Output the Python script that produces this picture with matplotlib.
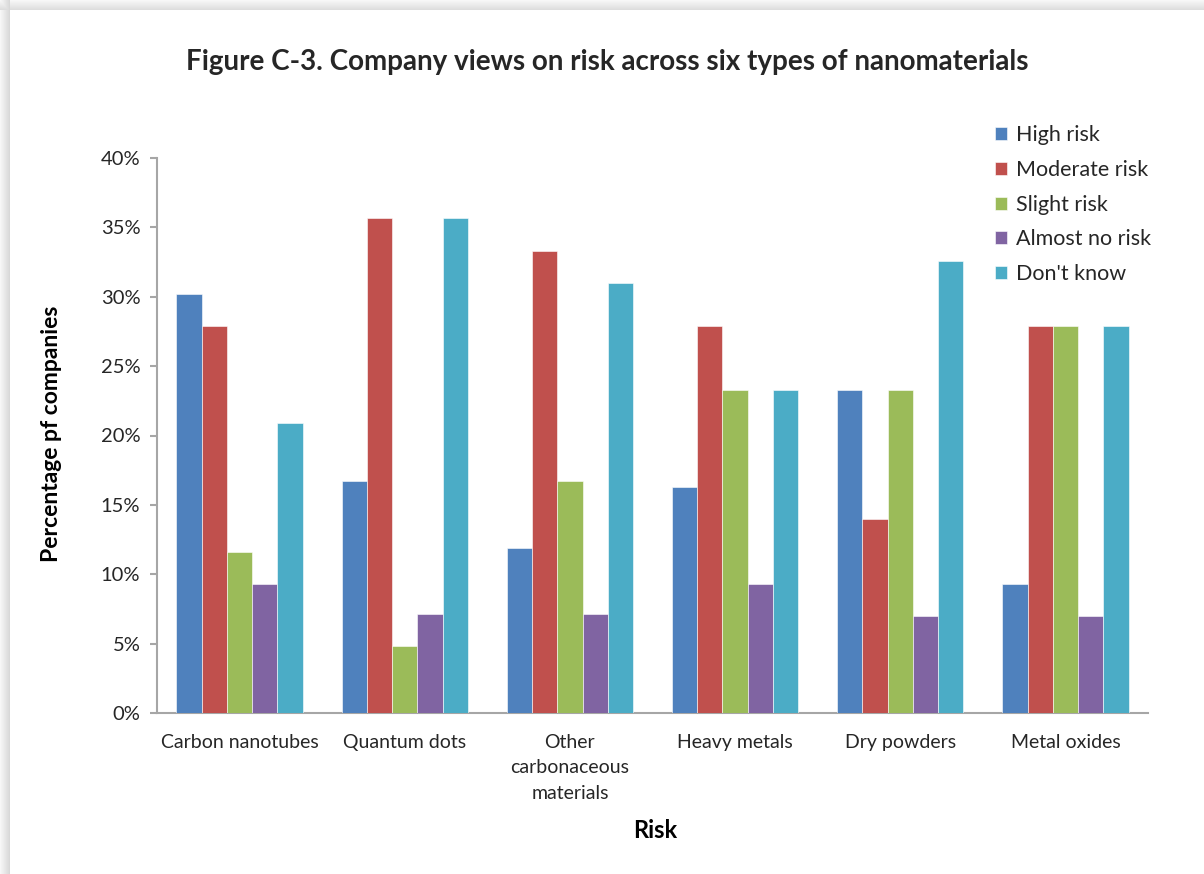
import numpy as np
import matplotlib
matplotlib.use("Agg")
import matplotlib.pyplot as plt
from matplotlib.ticker import PercentFormatter

categories = ["Carbon nanotubes", "Quantum dots", "Other\ncarbonaceous\nmaterials",
              "Heavy metals", "Dry powders", "Metal oxides"]
series_names = ["High risk", "Moderate risk", "Slight risk", "Almost no risk", "Don't know"]
high_risk = [30.2, 16.7, 11.9, 16.3, 23.3, 9.3]
moderate_risk = [27.9, 35.7, 33.3, 27.9, 14.0, 27.9]
slight_risk = [11.6, 4.8, 16.7, 23.3, 23.3, 27.9]
almost_no_risk = [9.3, 7.1, 7.1, 9.3, 7.0, 7.0]
dont_know = [20.9, 35.7, 31.0, 23.3, 32.6, 27.9]
colors = ["#4F81BD", "#C0504D", "#9BBB59", "#8064A2", "#4BACC6"]

W, H = 1204, 874
fig = plt.figure(figsize=(W / 100, H / 100), dpi=100)

# background frame with shadow on left and top edges
bg = np.ones((H, W, 3))
shade = np.ones(W)
for i in range(10):
    shade[i] = 0.97 - 0.12 * (i / 9.0)
tshade = np.ones(H)
for i in range(10):
    tshade[i] = 0.97 - 0.10 * (i / 9.0)
bg = bg * shade[None, :, None]
bg = np.minimum(bg, tshade[:, None, None])
bax = fig.add_axes([0, 0, 1, 1])
bax.imshow(bg, aspect="auto", extent=[0, W, H, 0])
bax.axis("off")

font = ["Lato", "DejaVu Sans"]
tcol = "#262626"
gcol = "#A6A6A6"

ax = fig.add_axes([157 / W, 1 - 713 / H, (1148 - 157) / W, (713 - 158) / H])
ax.set_facecolor("none")
x = np.arange(len(categories))
bw = 0.153
data = [high_risk, moderate_risk, slight_risk, almost_no_risk, dont_know]
for i, (name, vals, c) in enumerate(zip(series_names, data, colors)):
    ax.bar(x + (i - 2) * bw, np.array(vals) / 100.0, width=bw, color=c,
           edgecolor="white", linewidth=0.4, label=name, zorder=3)

ax.set_xlim(-0.5, len(categories) - 0.5)
ax.set_ylim(0, 0.40)
ax.set_yticks(np.arange(0, 0.401, 0.05))
ax.yaxis.set_major_formatter(PercentFormatter(1.0, decimals=0))
ax.set_xticks(x)
ax.set_xticklabels(categories, fontsize=14, family=font, color=tcol, linespacing=1.6,
                   verticalalignment="top")
for lab in ax.get_yticklabels():
    lab.set_fontsize(14.5)
    lab.set_family(font)
    lab.set_color(tcol)
ax.tick_params(axis="x", length=0, pad=15)
ax.tick_params(axis="y", length=5, width=1.5, color=gcol, pad=7, direction="out")
for s in ["top", "right"]:
    ax.spines[s].set_visible(False)
for s in ["left", "bottom"]:
    ax.spines[s].set_color(gcol)
    ax.spines[s].set_linewidth(1.5)

fig.text(607 / W, 1 - 62 / H, "Figure C-3. Company views on risk across six types of nanomaterials",
         ha="center", va="center", fontsize=20, fontweight="bold",
         family=font, color=tcol)
fig.text(52 / W, 1 - 434 / H, "Percentage pf companies", rotation=90, ha="center", va="center",
         fontsize=16.5, fontweight="bold", family=font, color="black")
fig.text(655 / W, 1 - 830 / H, "Risk", ha="center", va="center",
         fontsize=17, fontweight="bold", family=font, color="black")

leg = ax.legend(loc="upper left", bbox_to_anchor=(976 / W, 1 - 106 / H),
                bbox_transform=fig.transFigure, frameon=False,
                prop={"family": font, "size": 15.5}, handlelength=0.55, handleheight=0.55,
                handletextpad=0.4, labelspacing=0.68)
for t in leg.get_texts():
    t.set_color(tcol)

fig.savefig("out.png", dpi=100)
